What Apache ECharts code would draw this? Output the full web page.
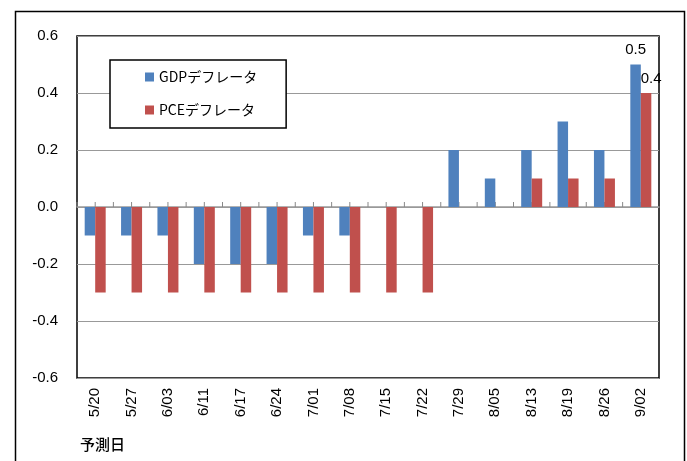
<!DOCTYPE html>
<html><head><meta charset="utf-8">
<script src="https://cdn.jsdelivr.net/npm/echarts@6/dist/echarts.min.js"></script>
<style>html,body{margin:0;padding:0;background:#fff}#c{width:687px;height:461px}</style>
</head><body><div id="c"></div>
<script>
const categories = ['5/20','5/27','6/03','6/11','6/17','6/24','7/01','7/08','7/15','7/22','7/29','8/05','8/13','8/19','8/26','9/02'];
const gdpDeflator = [-0.1,-0.1,-0.1,-0.2,-0.2,-0.2,-0.1,-0.1,0,0,0.2,0.1,0.2,0.3,0.2,0.5];
const pceDeflator = [-0.3,-0.3,-0.3,-0.3,-0.3,-0.3,-0.3,-0.3,-0.3,-0.3,0,0,0.1,0.1,0.1,0.4];
const seriesNames = ['GDPデフレータ','PCEデフレータ'];
const xAxisTitle = '予測日';
const yMin = -0.6, yMax = 0.6, yStep = 0.2;

const last = categories.length - 1;
const chart = echarts.init(document.getElementById('c'));
const latin = 'Liberation Sans, Arial, sans-serif';
const cjk = '"Noto Sans CJK JP", sans-serif';
const lastLabel = p => p.dataIndex === last ? p.value.toFixed(1) : '';
chart.setOption({
  animation: false,
  backgroundColor: '#fff',
  grid: {left: 77, right: 28, top: 36, bottom: 83, show: true, borderColor: '#000', borderWidth: 1.5, backgroundColor: 'transparent'},
  legend: {
    orient: 'vertical', left: 110, top: 60,
    padding: [10, 29, 11, 35], itemGap: 19,
    itemWidth: 9, itemHeight: 9, icon: 'rect',
    borderColor: '#000', borderWidth: 1.5, backgroundColor: '#fff',
    textStyle: {fontFamily: cjk, fontSize: 14, color: '#000'},
    data: seriesNames
  },
  xAxis: {
    type: 'category', data: categories,
    axisLine: {onZero: true, lineStyle: {color: '#999', width: 1.5}},
    axisTick: {show: false},
    axisLabel: {rotate: 90, margin: 10, fontFamily: latin, fontSize: 15, color: '#000', interval: 0},
    position: 'bottom'
  },
  yAxis: {
    type: 'value', min: yMin, max: yMax, interval: yStep,
    axisLine: {show: false}, axisTick: {show: false},
    splitLine: {lineStyle: {color: '#999', width: 1.2}},
    axisLabel: {formatter: v => v.toFixed(1), fontFamily: latin, fontSize: 15, color: '#000', margin: 19}
  },
  series: [{
    name: 'ticks', type: 'custom', z: 1, silent: true, legendHoverLink: false,
    data: categories.map((c, i) => [i, 0]),
    renderItem: (params, api) => {
      const p = api.coord([api.value(0), 0]);
      const bw = api.size([1, 0])[0];
      const mk = x => ({type: 'line', shape: {x1: x, y1: p[1], x2: x, y2: p[1] - 5}, style: {stroke: '#888', lineWidth: 1}});
      return {type: 'group', children: [mk(p[0] - bw / 2), mk(p[0])]};
    }
  }, {
    name: seriesNames[0], type: 'bar', data: gdpDeflator, z: 2,
    barWidth: 10.5, barGap: '0%',
    itemStyle: {color: '#4F81BD'},
    label: {show: true, position: 'top', distance: 7, formatter: lastLabel, fontFamily: latin, fontSize: 15, color: '#000'}
  }, {
    name: seriesNames[1], type: 'bar', data: pceDeflator, z: 2,
    barWidth: 10.5, barGap: '0%',
    itemStyle: {color: '#C0504D'},
    label: {show: true, position: 'top', distance: 7, offset: [5, 0], formatter: lastLabel, fontFamily: latin, fontSize: 15, color: '#000'}
  }],
  graphic: [
    {type: 'rect', left: 13, top: 9, shape: {width: 669, height: 470}, style: {fill: 'none', stroke: '#000', lineWidth: 1.5}, silent: true},
    {type: 'text', left: 80, top: 437, style: {text: xAxisTitle, font: '500 15px "Noto Sans CJK JP", sans-serif', fill: '#000'}}
  ]
});
</script></body></html>
